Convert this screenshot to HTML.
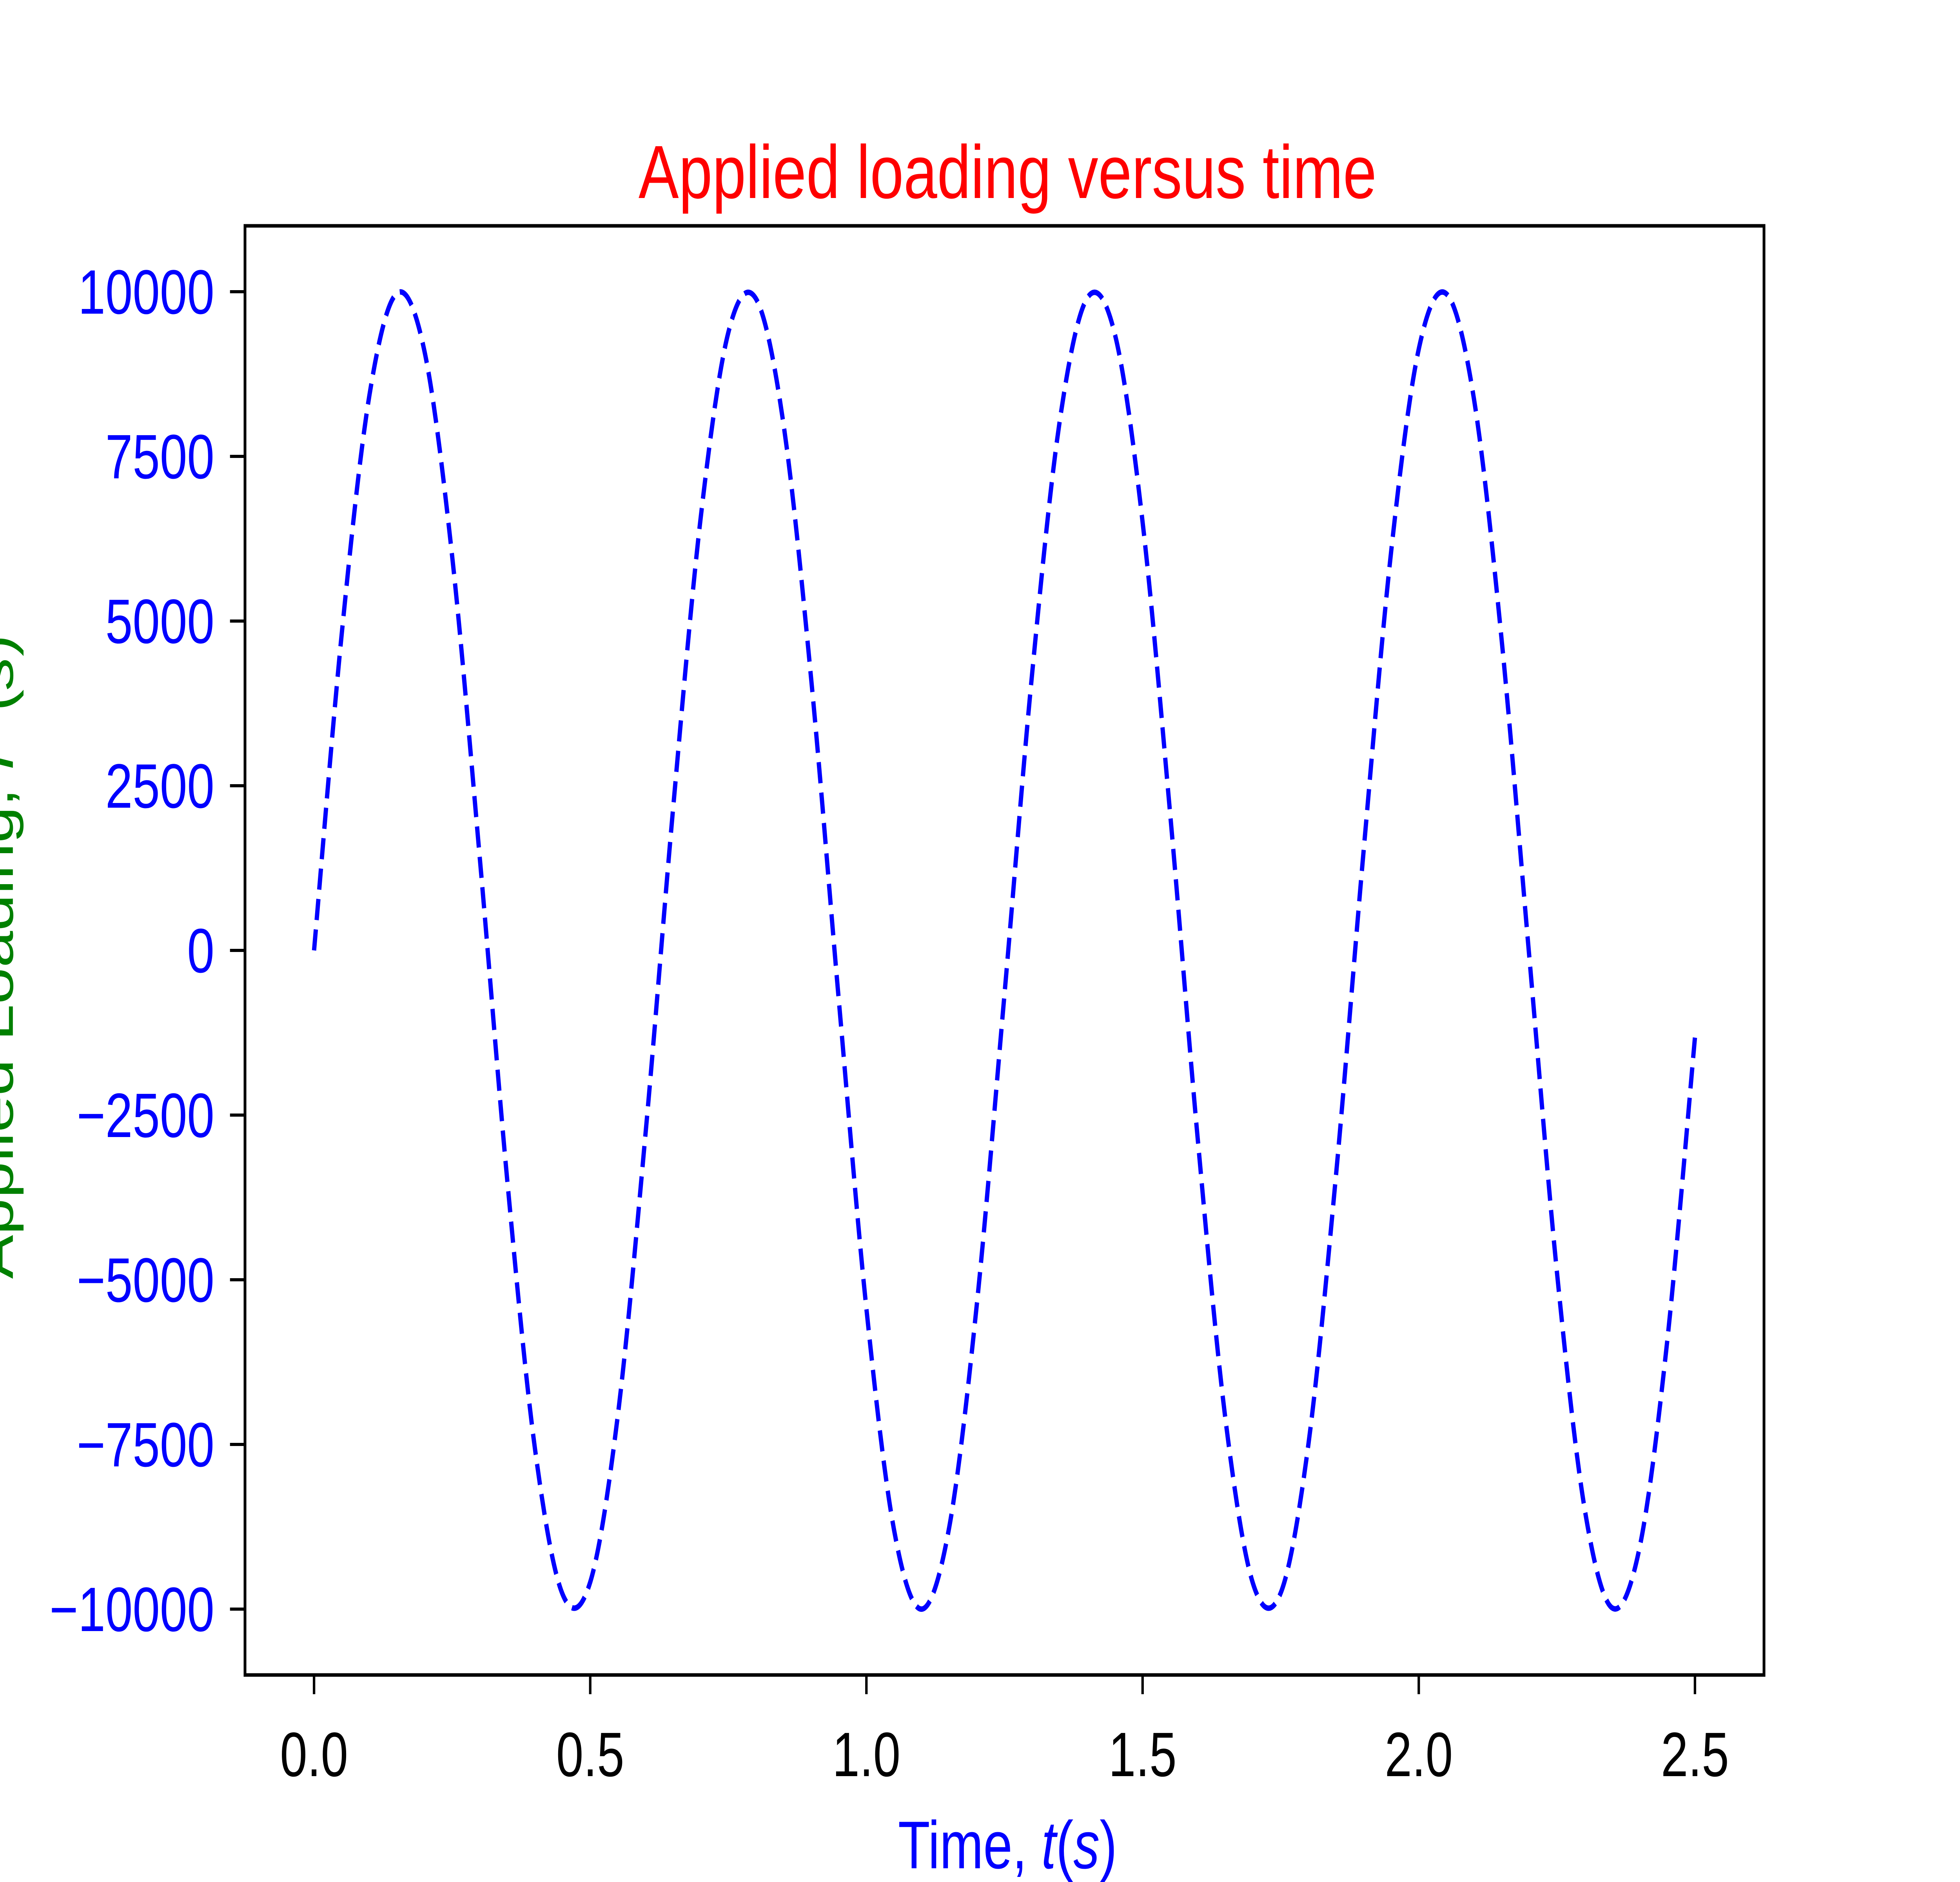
<!DOCTYPE html>
<html>
<head>
<meta charset="utf-8">
<style>
  html, body { margin: 0; padding: 0; background: #fff; width: 100%; height: 100%; overflow: hidden; }
  svg { display: block; width: 100vw; height: 100vh; }
  text { font-family: "Liberation Sans", "DejaVu Sans", sans-serif; }
</style>
</head>
<body>
<svg id="chart" viewBox="0 0 6400 4800" preserveAspectRatio="none" xmlns="http://www.w3.org/2000/svg">
  <rect x="0" y="0" width="6400" height="4800" fill="#fff"/>
  <rect x="800" y="576" width="4960" height="3696" fill="#fff"/>
  <g id="series"></g>
  <g id="ticks"></g>
  <rect x="800" y="576" width="4960" height="3696" fill="none" stroke="#000" stroke-width="9"/>
  <text x="3290" y="505" text-anchor="middle" font-size="192" textLength="2410" lengthAdjust="spacingAndGlyphs" fill="#ff0000">Applied loading versus time</text>
  <text x="3290" y="4765" text-anchor="middle" font-size="172" textLength="715" lengthAdjust="spacingAndGlyphs" fill="#0000ff">Time, <tspan font-style="italic">t</tspan>(<tspan font-style="italic">s</tspan>)</text>
  <text transform="translate(42,2440) rotate(-90)" text-anchor="middle" font-size="168" fill="#008000">Applied Loading, <tspan font-style="italic">F</tspan> (<tspan font-style="italic">s</tspan>)</text>
</svg>
<script>
const times = [0,0.05,0.1,0.15,0.2,0.25,0.3,0.35,0.4,0.45,0.5,0.55,0.6,0.65,0.7,0.75,0.8,0.85,0.9,0.95,1.0,1.05,1.1,1.15,1.2,1.25,1.3,1.35,1.4,1.45,1.5,1.55,1.6,1.65,1.7,1.75,1.8,1.85,1.9,1.95,2.0,2.05,2.1,2.15,2.2,2.25,2.3,2.35,2.4,2.45,2.5];
const loads = [0,4794,8415,9975,9093,5985,1411,-3508,-7568,-9775,-9589,-7055,-2794,2151,6570,9380,9894,7985,4121,-752,-5440,-8797,-10000,-8755,-5366,-663,4202,8038,9906,9349,6503,2065,-2879,-7118,-9614,-9756,-7510,-3425,1499,6055,9129,9968,8367,4716,-88,-4872,-8462,-9981,-9056,-5914,-1324];
const xTicks = [0.0,0.5,1.0,1.5,2.0,2.5];
const xTickLabels = ["0.0","0.5","1.0","1.5","2.0","2.5"];
const yTicks = [-10000,-7500,-5000,-2500,0,2500,5000,7500,10000];
const yTickLabels = ["\u221210000","\u22127500","\u22125000","\u22122500","0","2500","5000","7500","10000"];

const NS = "http://www.w3.org/2000/svg";
const X0 = 800, X1 = 5760, Y0 = 576, Y1 = 4272;
const xMin = -0.125, xMax = 2.625, yMin = -11000, yMax = 11000;
function sx(v) { return X0 + (v - xMin) / (xMax - xMin) * (X1 - X0); }
function sy(v) { return Y1 - (v - yMin) / (yMax - yMin) * (Y1 - Y0); }

const series = document.getElementById('series');
const pts = times.map((t, i) => [sx(t), sy(loads[i])]);
let d = "M" + pts[0][0].toFixed(1) + "," + pts[0][1].toFixed(1);
for (let i = 0; i < pts.length - 1; i++) {
  const p0 = pts[Math.max(i - 1, 0)], p1 = pts[i], p2 = pts[i + 1], p3 = pts[Math.min(i + 2, pts.length - 1)];
  const c1x = p1[0] + (p2[0] - p0[0]) / 6, c1y = p1[1] + (p2[1] - p0[1]) / 6;
  const c2x = p2[0] - (p3[0] - p1[0]) / 6, c2y = p2[1] - (p3[1] - p1[1]) / 6;
  d += " C" + c1x.toFixed(1) + "," + c1y.toFixed(1) + " " + c2x.toFixed(1) + "," + c2y.toFixed(1) + " " + p2[0].toFixed(1) + "," + p2[1].toFixed(1);
}
const line = document.createElementNS(NS, 'path');
line.setAttribute('d', d);
line.setAttribute('fill', 'none');
line.setAttribute('stroke', '#0000ff');
line.setAttribute('stroke-width', '14');
line.setAttribute('stroke-dasharray', '54 24');


series.appendChild(line);

const ticks = document.getElementById('ticks');
xTicks.forEach((v, i) => {
  const x = sx(v);
  const tk = document.createElementNS(NS, 'line');
  tk.setAttribute('x1', x); tk.setAttribute('x2', x);
  tk.setAttribute('y1', Y1); tk.setAttribute('y2', Y1 + 49);
  tk.setAttribute('stroke', '#000'); tk.setAttribute('stroke-width', '8');
  
  
  ticks.appendChild(tk);
  const lb = document.createElementNS(NS, 'text');
  lb.setAttribute('x', x); lb.setAttribute('y', Y1 + 258);
  lb.setAttribute('text-anchor', 'middle');
  lb.setAttribute('font-size', '160');
  lb.setAttribute('fill', '#000');
  lb.textContent = xTickLabels[i];
  
  
  ticks.appendChild(lb);
});
yTicks.forEach((v, i) => {
  const y = sy(v);
  const tk = document.createElementNS(NS, 'line');
  tk.setAttribute('x1', X0 - 49); tk.setAttribute('x2', X0);
  tk.setAttribute('y1', y); tk.setAttribute('y2', y);
  tk.setAttribute('stroke', '#000'); tk.setAttribute('stroke-width', '8');
  
  
  ticks.appendChild(tk);
  const lb = document.createElementNS(NS, 'text');
  lb.setAttribute('x', X0 - 100); lb.setAttribute('y', y + 56);
  lb.setAttribute('text-anchor', 'end');
  lb.setAttribute('font-size', '160');
  lb.setAttribute('fill', '#0000ff');
  lb.textContent = yTickLabels[i];
  
  
  ticks.appendChild(lb);
});
</script>
</body>
</html>
